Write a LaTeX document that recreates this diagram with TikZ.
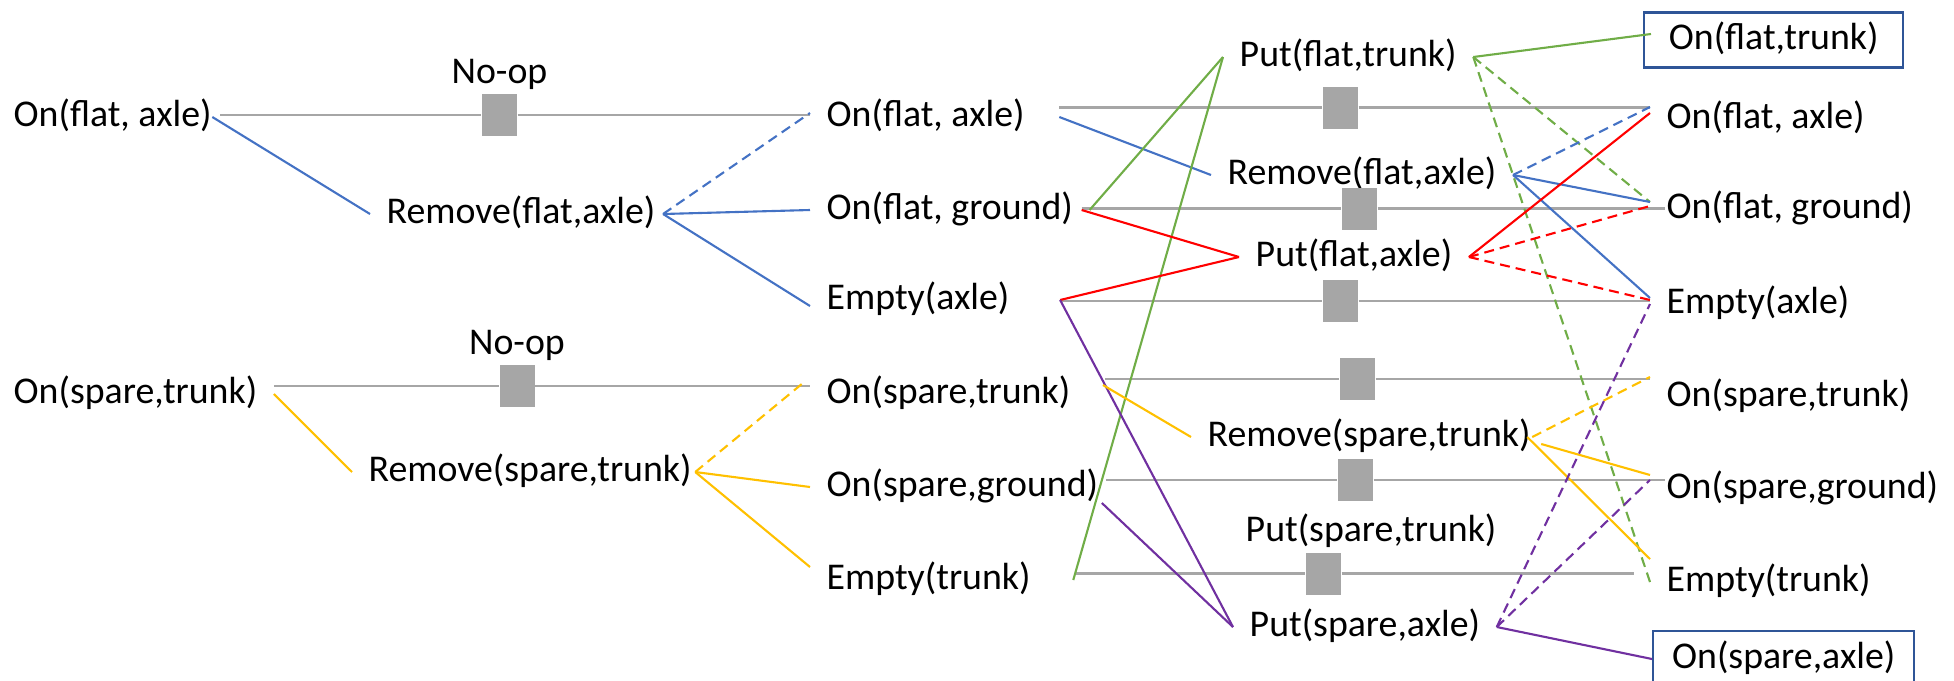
\documentclass[tikz,border=0pt]{standalone}
\usepackage{fontspec}
\setmainfont{Carlito}
\usetikzlibrary{positioning}
\definecolor{opblue}{HTML}{4472C4}
\definecolor{opgold}{HTML}{FFC000}
\definecolor{opgreen}{HTML}{70AD47}
\definecolor{opred}{HTML}{FF0000}
\definecolor{oppurple}{HTML}{7030A0}
\definecolor{opgray}{HTML}{A6A6A6}
\definecolor{goalblue}{HTML}{2F5597}
\newcommand{\planfont}{\fontsize{10.76pt}{12pt}\selectfont}
\tikzset{
  lit/.style={font=\planfont, anchor=west, inner xsep=1.6mm, inner ysep=0pt,
    text height=2.85mm, text depth=0.95mm},
  goal/.style={lit, draw=goalblue, line width=0.7pt, inner ysep=0.86mm},
  persist/.style={fill=opgray, minimum width=3.5mm, minimum height=4.2mm, inner sep=0pt},
  nooplabel/.style={font=\planfont, inner sep=0pt, text height=2.85mm, text depth=0.95mm},
  noop/.style={draw=opgray, line width=0.75pt},
  link/.style={line width=0.6pt},
  dellink/.style={link, dash pattern=on 1mm off 0.6mm},
}
\begin{document}
\begin{tikzpicture}[x=0.1mm,y=-0.1mm]
    \useasboundingbox (0,0) rectangle (1954,680);
    % S0
    \node[lit] (s0a) at (-3,117) {On(flat, axle)};
    \node[lit] (s0b) at (-3,394) {On(spare,trunk)};
    % A0
    \node[lit] (a0a) at (370,214) {Remove(flat,axle)};
    \node[lit] (a0b) at (352,472) {Remove(spare,trunk)};
    \node[persist] (k0a) at (499.5,115) {};
    \node[persist] (k0b) at (517,386) {};
    \node[nooplabel, above=0pt of k0a] (n0a) {No-op};
    \node[nooplabel, above=0pt of k0b] (n0b) {No-op};
    % S1
    \node[lit] (m1) at (810,117) {On(flat, axle)};
    \node[lit] (m2) at (810,210) {On(flat, ground)};
    \node[lit] (m3) at (810,300) {Empty(axle)};
    \node[lit] (m4) at (810,394) {On(spare,trunk)};
    \node[lit] (m5) at (810,487) {On(spare,ground)};
    \node[lit] (m6) at (810,580) {Empty(trunk)};
    % A1
    \node[lit] (b1) at (1223,57) {Put(flat,trunk)};
    \node[lit] (b2) at (1211,175) {Remove(flat,axle)};
    \node[lit] (b3) at (1239,257) {Put(flat,axle)};
    \node[lit] (b4) at (1191,437) {Remove(spare,trunk)};
    \node[lit] (b5) at (1229,532) {Put(spare,trunk)};
    \node[lit] (b6) at (1233,627) {Put(spare,axle)};
    \node[persist] (k1) at (1340.5,107.5) {};
    \node[persist] (k2) at (1359.5,208.5) {};
    \node[persist] (k3) at (1340.5,301) {};
    \node[persist] (k4) at (1357.5,379) {};
    \node[persist] (k5) at (1355.5,480) {};
    \node[persist] (k6) at (1323.5,573.5) {};
    % S2
    \node[goal, minimum width=25.9mm] (r0) at (1643,40) {On(flat,trunk)};
    \node[lit] (r1) at (1650,119) {On(flat, axle)};
    \node[lit] (r2) at (1650,209) {On(flat, ground)};
    \node[lit] (r3) at (1650,304) {Empty(axle)};
    \node[lit] (r4) at (1650,397) {On(spare,trunk)};
    \node[lit] (r5) at (1650,489) {On(spare,ground)};
    \node[lit] (r6) at (1650,582) {Empty(trunk)};
    \node[goal, minimum width=26.1mm, minimum height=5.6mm] (r7) at (1652,659) {On(spare,axle)};

    % persistence
    \draw[noop] ([xshift=-0.8mm]s0a.east |- k0a) -- (k0a) -- (k0a -| m1.west);
    \draw[noop] (s0b.east |- k0b) -- (k0b) -- (k0b -| m4.west);
    \draw[noop] ([xshift=1.8mm]m1.east |- k1) -- (k1) -- (k1 -| r1.west);
    \draw[noop] ([xshift=-0.8mm]m2.east |- k2) -- (k2) -- ([xshift=1.5mm]k2 -| r2.west);
    \draw[noop] ([xshift=3.4mm]m3.east |- k3) -- (k3) -- (k3 -| r3.west);
    \draw[noop] ([xshift=1.8mm]m4.east |- k4) -- (k4) -- (k4 -| r4.west);
    \draw[noop] ([xshift=-0.9mm]m5.east |- k5) -- (k5) -- ([xshift=1.5mm]k5 -| r5.west);
    \draw[noop] ([xshift=2.9mm]m6.east |- k6) -- (k6) -- ([xshift=-1.6mm]k6 -| r6.west);

    % level 0
    \draw[link, opblue] ([xshift=-1.6mm]s0a.east) -- (a0a.west);
    \draw[dellink, opblue] ([xshift=-0.9mm]a0a.east) -- ([yshift=0.4mm]m1.west);
    \draw[link, opblue] ([xshift=-0.9mm]a0a.east) -- (m2.west);
    \draw[link, opblue] ([xshift=-0.9mm]a0a.east) -- ([yshift=-0.6mm]m3.west);
    \draw[link, opgold] (s0b.east) -- (a0b.west);
    \draw[dellink, opgold] ([xshift=-1.3mm]a0b.east) -- ([xshift=-0.7mm,yshift=1.1mm]m4.west);
    \draw[link, opgold] ([xshift=-1.3mm]a0b.east) -- (m5.west);
    \draw[link, opgold] ([xshift=-1.3mm]a0b.east) -- ([yshift=1.3mm]m6.west);

    % level 1 preconditions
    \draw[link, opblue] ([xshift=1.8mm]m1.east) -- (b2.west);
    \draw[link, opgreen] (m2.east) -- (b1.west);
    \draw[link, opgreen] ([xshift=2.6mm]m6.east) -- (b1.west);
    \draw[link, opred] ([xshift=-0.8mm]m2.east) -- (b3.west);
    \draw[link, opred] ([xshift=3.4mm]m3.east) -- (b3.west);
    \draw[link, oppurple] ([xshift=3.4mm]m3.east) -- (b6.west);
    \draw[link, opgold] ([xshift=1.6mm,yshift=0.9mm]m4.east) -- (b4.west);
    \draw[link, oppurple] ([xshift=-1.3mm,yshift=-1.6mm]m5.east) -- (b6.west);

    % level 1 effects
    \draw[link, opgreen] (b1.east) -- ([xshift=0.8mm,yshift=0.6mm]r0.west);
    \draw[dellink, opgreen] (b1.east) -- ([yshift=0.7mm]r2.west);
    \draw[dellink, opgreen] (b1.east) -- (r6.west);
    \draw[dellink, opblue] (b2.east) -- ([yshift=1.2mm]r1.west);
    \draw[link, opblue] (b2.east) -- ([yshift=0.7mm]r2.west);
    \draw[link, opblue] (b2.east) -- ([yshift=0.6mm]r3.west);
    \draw[link, opred] (b3.east) -- ([yshift=0.6mm]r1.west);
    \draw[dellink, opred] (b3.east) -- ([yshift=0.3mm]r2.west);
    \draw[dellink, opred] (b3.east) -- ([yshift=0.4mm]r3.west);
    \draw[dellink, opgold] ([xshift=-1.5mm]b4.east) -- ([yshift=2mm]r4.west);
    \draw[link, opgold] ([xshift=-0.6mm,yshift=-0.7mm]b4.east) -- ([yshift=1.4mm]r5.west);
    \draw[link, opgold] ([xshift=-2mm]b4.east) -- ([yshift=2.3mm]r6.west);
    \draw[dellink, oppurple] (b6.east) -- ([yshift=0.9mm]r5.west);
    \draw[dellink, oppurple] (b6.east) -- (r3.west);
    \draw[link, oppurple] (b6.east) -- (r7.west);
\end{tikzpicture}
\end{document}
